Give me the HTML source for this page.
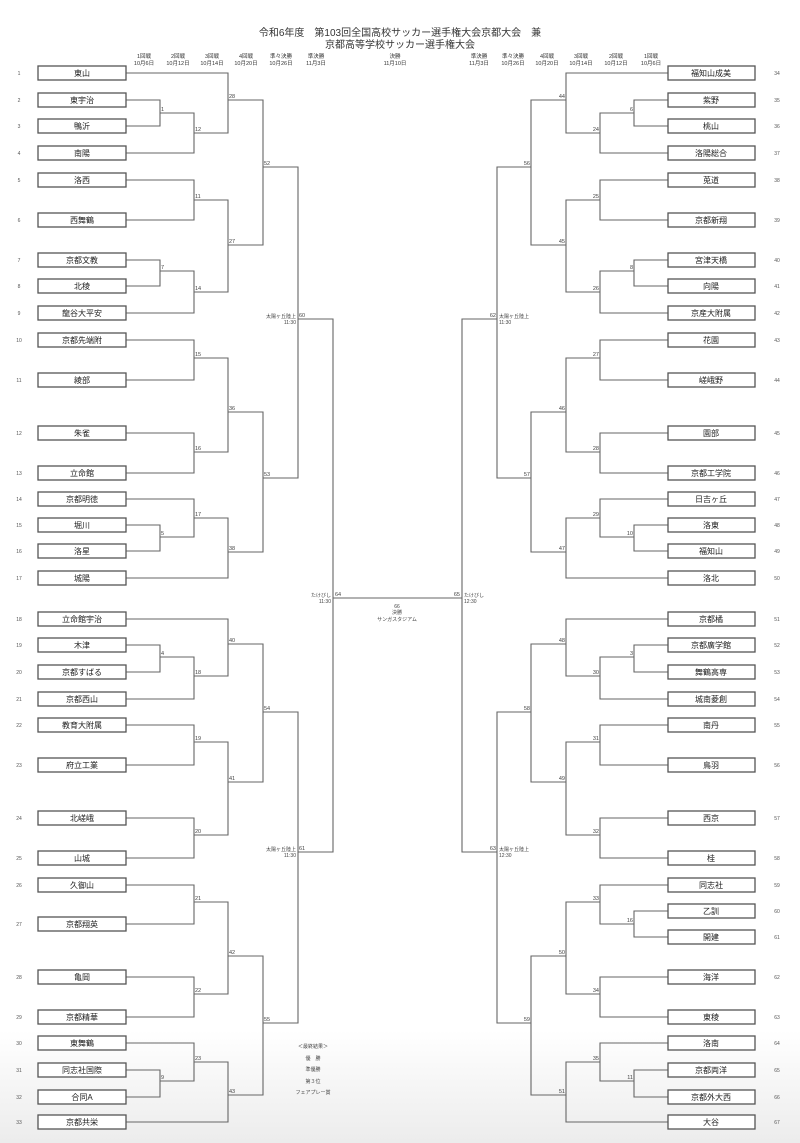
<!DOCTYPE html>
<html><head><meta charset="utf-8"><style>
html,body{margin:0;padding:0;background:#fff;}
svg{display:block;font-family:"Liberation Sans","Noto Sans CJK JP",sans-serif;}
.l{fill:none;stroke:#666;stroke-width:1.1}
.b{fill:#fff;stroke:#555;stroke-width:1.3}
.t{font-size:8px;fill:#222;text-anchor:middle}
.n{font-size:5px;fill:#555;text-anchor:middle}
.m{font-size:5.5px;fill:#444}
.h{font-size:5.5px;fill:#333;text-anchor:middle}
</style></head><body>
<svg width="800" height="1143" viewBox="0 0 800 1143">
<defs><linearGradient id="g" x1="0" y1="0" x2="0" y2="1"><stop offset="0" stop-color="#fff"/><stop offset="1" stop-color="#ececec"/></linearGradient></defs>
<rect x="0" y="1030" width="800" height="113" fill="url(#g)"/>
<text x="400" y="36" style="font-size:10px;fill:#333;text-anchor:middle">令和6年度　第103回全国高校サッカー選手権大会京都大会　兼</text>
<text x="400" y="48" style="font-size:10px;fill:#333;text-anchor:middle">京都高等学校サッカー選手権大会</text>
<g class="h">
<text x="144" y="58">1回戦</text><text x="144" y="65">10月6日</text>
<text x="178" y="58">2回戦</text><text x="178" y="65">10月12日</text>
<text x="212" y="58">3回戦</text><text x="212" y="65">10月14日</text>
<text x="246" y="58">4回戦</text><text x="246" y="65">10月20日</text>
<text x="281" y="58">準々決勝</text><text x="281" y="65">10月26日</text>
<text x="316" y="58">準決勝</text><text x="316" y="65">11月3日</text>
<text x="395" y="58">決勝</text><text x="395" y="65">11月10日</text>
<text x="479" y="58">準決勝</text><text x="479" y="65">11月3日</text>
<text x="513" y="58">準々決勝</text><text x="513" y="65">10月26日</text>
<text x="547" y="58">4回戦</text><text x="547" y="65">10月20日</text>
<text x="581" y="58">3回戦</text><text x="581" y="65">10月14日</text>
<text x="616" y="58">2回戦</text><text x="616" y="65">10月12日</text>
<text x="651" y="58">1回戦</text><text x="651" y="65">10月6日</text>
</g>
<!-- left lines -->
<g class="l">
<polyline points="126,100 160,100 160,126 126,126"/>
<polyline points="160,113 194,113 194,153 126,153"/>
<polyline points="126,73 228,73 228,133 194,133"/>
<polyline points="126,180 194,180 194,220 126,220"/>
<polyline points="126,260 160,260 160,286 126,286"/>
<polyline points="160,271 194,271 194,313 126,313"/>
<polyline points="194,200 228,200 228,292 194,292"/>
<polyline points="228,100 263,100 263,245 228,245"/>
<polyline points="126,340 194,340 194,380 126,380"/>
<polyline points="126,433 194,433 194,473 126,473"/>
<polyline points="194,358 228,358 228,452 194,452"/>
<polyline points="126,525 160,525 160,551 126,551"/>
<polyline points="126,499 194,499 194,537 160,537"/>
<polyline points="194,518 228,518 228,578 126,578"/>
<polyline points="228,412 263,412 263,552 228,552"/>
<polyline points="263,167 298,167 298,478 263,478"/>
<polyline points="298,319 333,319 333,852 298,852"/>
<polyline points="126,645 160,645 160,672 126,672"/>
<polyline points="160,657 194,657 194,699 126,699"/>
<polyline points="126,619 228,619 228,676 194,676"/>
<polyline points="126,725 194,725 194,765 126,765"/>
<polyline points="126,818 194,818 194,858 126,858"/>
<polyline points="194,742 228,742 228,835 194,835"/>
<polyline points="228,644 263,644 263,782 228,782"/>
<polyline points="126,885 194,885 194,924 126,924"/>
<polyline points="126,977 194,977 194,1017 126,1017"/>
<polyline points="194,902 228,902 228,994 194,994"/>
<polyline points="126,1070 160,1070 160,1097 126,1097"/>
<polyline points="126,1043 194,1043 194,1081 160,1081"/>
<polyline points="194,1062 228,1062 228,1122 126,1122"/>
<polyline points="228,956 263,956 263,1095 228,1095"/>
<polyline points="263,712 298,712 298,1023 263,1023"/>
<line x1="333" y1="598" x2="462" y2="598"/>
<!-- right -->
<polyline points="668,100 634,100 634,126 668,126"/>
<polyline points="634,113 600,113 600,153 668,153"/>
<polyline points="668,73 566,73 566,133 600,133"/>
<polyline points="668,180 600,180 600,220 668,220"/>
<polyline points="668,260 634,260 634,286 668,286"/>
<polyline points="634,271 600,271 600,313 668,313"/>
<polyline points="600,200 566,200 566,292 600,292"/>
<polyline points="566,100 531,100 531,245 566,245"/>
<polyline points="668,340 600,340 600,380 668,380"/>
<polyline points="668,433 600,433 600,473 668,473"/>
<polyline points="600,358 566,358 566,452 600,452"/>
<polyline points="668,525 634,525 634,551 668,551"/>
<polyline points="668,499 600,499 600,537 634,537"/>
<polyline points="600,518 566,518 566,578 668,578"/>
<polyline points="566,412 531,412 531,552 566,552"/>
<polyline points="531,167 497,167 497,478 531,478"/>
<polyline points="497,319 462,319 462,852 497,852"/>
<polyline points="668,645 634,645 634,672 668,672"/>
<polyline points="634,657 600,657 600,699 668,699"/>
<polyline points="668,619 566,619 566,676 600,676"/>
<polyline points="668,725 600,725 600,765 668,765"/>
<polyline points="668,818 600,818 600,858 668,858"/>
<polyline points="600,742 566,742 566,835 600,835"/>
<polyline points="566,644 531,644 531,782 566,782"/>
<polyline points="668,911 634,911 634,937 668,937"/>
<polyline points="668,885 600,885 600,924 634,924"/>
<polyline points="668,977 600,977 600,1017 668,1017"/>
<polyline points="600,902 566,902 566,994 600,994"/>
<polyline points="668,1070 634,1070 634,1097 668,1097"/>
<polyline points="668,1043 600,1043 600,1081 634,1081"/>
<polyline points="600,1062 566,1062 566,1122 668,1122"/>
<polyline points="566,956 531,956 531,1095 566,1095"/>
<polyline points="531,712 497,712 497,1023 531,1023"/>
</g>
<!-- match labels -->
<g class="m">
<text x="161" y="111">1</text><text x="195" y="131">12</text><text x="229" y="98">28</text>
<text x="195" y="198">11</text><text x="161" y="269">7</text><text x="195" y="290">14</text>
<text x="229" y="243">27</text><text x="264" y="165">52</text><text x="195" y="356">15</text>
<text x="195" y="450">16</text><text x="229" y="410">36</text><text x="161" y="535">5</text>
<text x="195" y="516">17</text><text x="229" y="550">38</text><text x="264" y="476">53</text>
<text x="299" y="317">60</text><text x="335" y="596">64</text>
<text x="161" y="655">4</text><text x="195" y="674">18</text><text x="229" y="642">40</text>
<text x="195" y="740">19</text><text x="195" y="833">20</text><text x="229" y="780">41</text>
<text x="264" y="710">54</text><text x="195" y="900">21</text><text x="195" y="992">22</text>
<text x="229" y="954">42</text><text x="161" y="1079">9</text><text x="195" y="1060">23</text>
<text x="229" y="1093">43</text><text x="264" y="1021">55</text><text x="299" y="850">61</text>
</g>
<g class="m" style="text-anchor:end">
<text x="633" y="111">6</text><text x="599" y="131">24</text><text x="565" y="98">44</text>
<text x="599" y="198">25</text><text x="633" y="269">8</text><text x="599" y="290">26</text>
<text x="565" y="243">45</text><text x="530" y="165">56</text><text x="599" y="356">27</text>
<text x="599" y="450">28</text><text x="565" y="410">46</text><text x="633" y="535">10</text>
<text x="599" y="516">29</text><text x="565" y="550">47</text><text x="530" y="476">57</text>
<text x="496" y="317">62</text><text x="460" y="596">65</text>
<text x="633" y="655">3</text><text x="599" y="674">30</text><text x="565" y="642">48</text>
<text x="599" y="740">31</text><text x="599" y="833">32</text><text x="565" y="780">49</text>
<text x="530" y="710">58</text><text x="633" y="922">16</text><text x="599" y="900">33</text>
<text x="599" y="992">34</text><text x="565" y="954">50</text><text x="633" y="1079">11</text>
<text x="599" y="1060">35</text><text x="565" y="1093">51</text><text x="530" y="1021">59</text>
<text x="496" y="850">63</text>
</g>
<g class="m" style="font-size:5px">
<text x="296" y="318" text-anchor="end">太陽ヶ丘陸上</text><text x="296" y="324" text-anchor="end">11:30</text>
<text x="331" y="597" text-anchor="end">たけびし</text><text x="331" y="603" text-anchor="end">11:30</text>
<text x="296" y="851" text-anchor="end">太陽ヶ丘陸上</text><text x="296" y="857" text-anchor="end">11:30</text>
<text x="499" y="318">太陽ヶ丘陸上</text><text x="499" y="324">11:30</text>
<text x="464" y="597">たけびし</text><text x="464" y="603">12:30</text>
<text x="499" y="851">太陽ヶ丘陸上</text><text x="499" y="857">12:30</text>
<text x="397" y="608" text-anchor="middle">66</text>
<text x="397" y="614" text-anchor="middle">決勝</text>
<text x="397" y="621" text-anchor="middle">サンガスタジアム</text>
<text x="313" y="1048" text-anchor="middle">＜最終結果＞</text>
<text x="313" y="1060" text-anchor="middle">優　勝</text>
<text x="313" y="1071" text-anchor="middle">準優勝</text>
<text x="313" y="1083" text-anchor="middle">第３位</text>
<text x="313" y="1094" text-anchor="middle">フェアプレー賞</text>
</g>
<!-- left boxes -->
<g>
<rect class="b" x="38" y="66" width="88" height="14"/><text class="t" x="82" y="76">東山</text>
<rect class="b" x="38" y="93" width="88" height="14"/><text class="t" x="82" y="103">東宇治</text>
<rect class="b" x="38" y="119" width="88" height="14"/><text class="t" x="82" y="129">鴨沂</text>
<rect class="b" x="38" y="146" width="88" height="14"/><text class="t" x="82" y="156">南陽</text>
<rect class="b" x="38" y="173" width="88" height="14"/><text class="t" x="82" y="183">洛西</text>
<rect class="b" x="38" y="213" width="88" height="14"/><text class="t" x="82" y="223">西舞鶴</text>
<rect class="b" x="38" y="253" width="88" height="14"/><text class="t" x="82" y="263">京都文教</text>
<rect class="b" x="38" y="279" width="88" height="14"/><text class="t" x="82" y="289">北稜</text>
<rect class="b" x="38" y="306" width="88" height="14"/><text class="t" x="82" y="316">龍谷大平安</text>
<rect class="b" x="38" y="333" width="88" height="14"/><text class="t" x="82" y="343">京都先端附</text>
<rect class="b" x="38" y="373" width="88" height="14"/><text class="t" x="82" y="383">綾部</text>
<rect class="b" x="38" y="426" width="88" height="14"/><text class="t" x="82" y="436">朱雀</text>
<rect class="b" x="38" y="466" width="88" height="14"/><text class="t" x="82" y="476">立命館</text>
<rect class="b" x="38" y="492" width="88" height="14"/><text class="t" x="82" y="502">京都明徳</text>
<rect class="b" x="38" y="518" width="88" height="14"/><text class="t" x="82" y="528">堀川</text>
<rect class="b" x="38" y="544" width="88" height="14"/><text class="t" x="82" y="554">洛星</text>
<rect class="b" x="38" y="571" width="88" height="14"/><text class="t" x="82" y="581">城陽</text>
<rect class="b" x="38" y="612" width="88" height="14"/><text class="t" x="82" y="622">立命館宇治</text>
<rect class="b" x="38" y="638" width="88" height="14"/><text class="t" x="82" y="648">木津</text>
<rect class="b" x="38" y="665" width="88" height="14"/><text class="t" x="82" y="675">京都すばる</text>
<rect class="b" x="38" y="692" width="88" height="14"/><text class="t" x="82" y="702">京都西山</text>
<rect class="b" x="38" y="718" width="88" height="14"/><text class="t" x="82" y="728">教育大附属</text>
<rect class="b" x="38" y="758" width="88" height="14"/><text class="t" x="82" y="768">府立工業</text>
<rect class="b" x="38" y="811" width="88" height="14"/><text class="t" x="82" y="821">北嵯峨</text>
<rect class="b" x="38" y="851" width="88" height="14"/><text class="t" x="82" y="861">山城</text>
<rect class="b" x="38" y="878" width="88" height="14"/><text class="t" x="82" y="888">久御山</text>
<rect class="b" x="38" y="917" width="88" height="14"/><text class="t" x="82" y="927">京都翔英</text>
<rect class="b" x="38" y="970" width="88" height="14"/><text class="t" x="82" y="980">亀岡</text>
<rect class="b" x="38" y="1010" width="88" height="14"/><text class="t" x="82" y="1020">京都精華</text>
<rect class="b" x="38" y="1036" width="88" height="14"/><text class="t" x="82" y="1046">東舞鶴</text>
<rect class="b" x="38" y="1063" width="88" height="14"/><text class="t" x="82" y="1073">同志社国際</text>
<rect class="b" x="38" y="1090" width="88" height="14"/><text class="t" x="82" y="1100">合同A</text>
<rect class="b" x="38" y="1115" width="88" height="14"/><text class="t" x="82" y="1125">京都共栄</text>
</g>
<!-- right boxes -->
<g>
<rect class="b" x="668" y="66" width="87" height="14"/><text class="t" x="711" y="76">福知山成美</text>
<rect class="b" x="668" y="93" width="87" height="14"/><text class="t" x="711" y="103">紫野</text>
<rect class="b" x="668" y="119" width="87" height="14"/><text class="t" x="711" y="129">桃山</text>
<rect class="b" x="668" y="146" width="87" height="14"/><text class="t" x="711" y="156">洛陽総合</text>
<rect class="b" x="668" y="173" width="87" height="14"/><text class="t" x="711" y="183">莵道</text>
<rect class="b" x="668" y="213" width="87" height="14"/><text class="t" x="711" y="223">京都新翔</text>
<rect class="b" x="668" y="253" width="87" height="14"/><text class="t" x="711" y="263">宮津天橋</text>
<rect class="b" x="668" y="279" width="87" height="14"/><text class="t" x="711" y="289">向陽</text>
<rect class="b" x="668" y="306" width="87" height="14"/><text class="t" x="711" y="316">京産大附属</text>
<rect class="b" x="668" y="333" width="87" height="14"/><text class="t" x="711" y="343">花園</text>
<rect class="b" x="668" y="373" width="87" height="14"/><text class="t" x="711" y="383">嵯峨野</text>
<rect class="b" x="668" y="426" width="87" height="14"/><text class="t" x="711" y="436">園部</text>
<rect class="b" x="668" y="466" width="87" height="14"/><text class="t" x="711" y="476">京都工学院</text>
<rect class="b" x="668" y="492" width="87" height="14"/><text class="t" x="711" y="502">日吉ヶ丘</text>
<rect class="b" x="668" y="518" width="87" height="14"/><text class="t" x="711" y="528">洛東</text>
<rect class="b" x="668" y="544" width="87" height="14"/><text class="t" x="711" y="554">福知山</text>
<rect class="b" x="668" y="571" width="87" height="14"/><text class="t" x="711" y="581">洛北</text>
<rect class="b" x="668" y="612" width="87" height="14"/><text class="t" x="711" y="622">京都橘</text>
<rect class="b" x="668" y="638" width="87" height="14"/><text class="t" x="711" y="648">京都廣学館</text>
<rect class="b" x="668" y="665" width="87" height="14"/><text class="t" x="711" y="675">舞鶴高専</text>
<rect class="b" x="668" y="692" width="87" height="14"/><text class="t" x="711" y="702">城南菱創</text>
<rect class="b" x="668" y="718" width="87" height="14"/><text class="t" x="711" y="728">南丹</text>
<rect class="b" x="668" y="758" width="87" height="14"/><text class="t" x="711" y="768">鳥羽</text>
<rect class="b" x="668" y="811" width="87" height="14"/><text class="t" x="711" y="821">西京</text>
<rect class="b" x="668" y="851" width="87" height="14"/><text class="t" x="711" y="861">桂</text>
<rect class="b" x="668" y="878" width="87" height="14"/><text class="t" x="711" y="888">同志社</text>
<rect class="b" x="668" y="904" width="87" height="14"/><text class="t" x="711" y="914">乙訓</text>
<rect class="b" x="668" y="930" width="87" height="14"/><text class="t" x="711" y="940">開建</text>
<rect class="b" x="668" y="970" width="87" height="14"/><text class="t" x="711" y="980">海洋</text>
<rect class="b" x="668" y="1010" width="87" height="14"/><text class="t" x="711" y="1020">東稜</text>
<rect class="b" x="668" y="1036" width="87" height="14"/><text class="t" x="711" y="1046">洛南</text>
<rect class="b" x="668" y="1063" width="87" height="14"/><text class="t" x="711" y="1073">京都両洋</text>
<rect class="b" x="668" y="1090" width="87" height="14"/><text class="t" x="711" y="1100">京都外大西</text>
<rect class="b" x="668" y="1115" width="87" height="14"/><text class="t" x="711" y="1125">大谷</text>
</g>
<!-- numbers -->
<g class="n">
<text x="19" y="75">1</text><text x="19" y="102">2</text><text x="19" y="128">3</text><text x="19" y="155">4</text>
<text x="19" y="182">5</text><text x="19" y="222">6</text><text x="19" y="262">7</text><text x="19" y="288">8</text>
<text x="19" y="315">9</text><text x="19" y="342">10</text><text x="19" y="382">11</text><text x="19" y="435">12</text>
<text x="19" y="475">13</text><text x="19" y="501">14</text><text x="19" y="527">15</text><text x="19" y="553">16</text>
<text x="19" y="580">17</text><text x="19" y="621">18</text><text x="19" y="647">19</text><text x="19" y="674">20</text>
<text x="19" y="701">21</text><text x="19" y="727">22</text><text x="19" y="767">23</text><text x="19" y="820">24</text>
<text x="19" y="860">25</text><text x="19" y="887">26</text><text x="19" y="926">27</text><text x="19" y="979">28</text>
<text x="19" y="1019">29</text><text x="19" y="1045">30</text><text x="19" y="1072">31</text><text x="19" y="1099">32</text>
<text x="19" y="1124">33</text>
<text x="777" y="75">34</text><text x="777" y="102">35</text><text x="777" y="128">36</text><text x="777" y="155">37</text>
<text x="777" y="182">38</text><text x="777" y="222">39</text><text x="777" y="262">40</text><text x="777" y="288">41</text>
<text x="777" y="315">42</text><text x="777" y="342">43</text><text x="777" y="382">44</text><text x="777" y="435">45</text>
<text x="777" y="475">46</text><text x="777" y="501">47</text><text x="777" y="527">48</text><text x="777" y="553">49</text>
<text x="777" y="580">50</text><text x="777" y="621">51</text><text x="777" y="647">52</text><text x="777" y="674">53</text>
<text x="777" y="701">54</text><text x="777" y="727">55</text><text x="777" y="767">56</text><text x="777" y="820">57</text>
<text x="777" y="860">58</text><text x="777" y="887">59</text><text x="777" y="913">60</text><text x="777" y="939">61</text>
<text x="777" y="979">62</text><text x="777" y="1019">63</text><text x="777" y="1045">64</text><text x="777" y="1072">65</text>
<text x="777" y="1099">66</text><text x="777" y="1124">67</text>
</g>
</svg>
</body></html>
